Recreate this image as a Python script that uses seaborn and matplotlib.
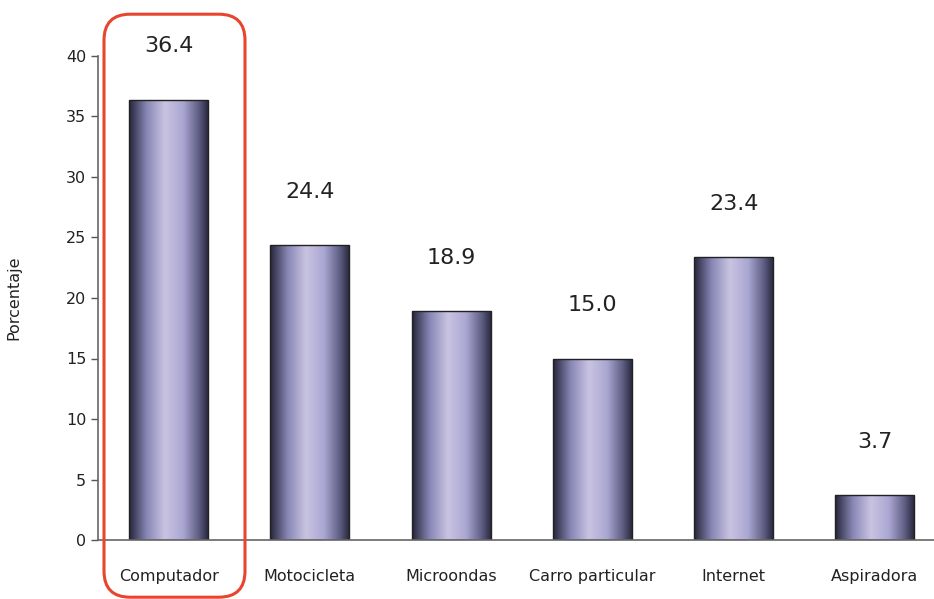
import numpy as np
import pandas as pd
import matplotlib
matplotlib.use("Agg")
import matplotlib.pyplot as plt
import seaborn as sns
from matplotlib.colors import LinearSegmentedColormap
from matplotlib.patches import FancyBboxPatch

# ================= datos =================
categorias = ["Computador", "Motocicleta", "Microondas", "Carro particular", "Internet", "Aspiradora"]
porcentajes = [36.4, 24.4, 18.9, 15.0, 23.4, 3.7]
y_ticks = [0, 5, 10, 15, 20, 25, 30, 35, 40]

df = pd.DataFrame({"Categoria": categorias, "Porcentaje": porcentajes})

sns.set_style("white")
plt.rcParams["font.family"] = ["DejaVu Sans"]

fig = plt.figure(figsize=(9.34, 5.99), dpi=100)
ax = fig.add_axes([98 / 934, 59 / 599, 847.5 / 934, 484 / 599])

sns.barplot(data=df, x="Categoria", y="Porcentaje", width=0.56, ax=ax,
            color="#a8a4d0", edgecolor="#222222", linewidth=1.0)

# degradado tipo cilindro en cada barra
cmap = LinearSegmentedColormap.from_list("cil", [
    (0.0, "#25253a"), (0.22, "#8786b5"), (0.45, "#cac4e2"),
    (0.68, "#a9a6d2"), (0.88, "#5c5b80"), (1.0, "#25253a")])
grad = np.linspace(0, 1, 256).reshape(1, -1)
for p in ax.patches:
    x0, y0 = p.get_x(), p.get_y()
    w, h = p.get_width(), p.get_height()
    p.set_facecolor("none")
    im = ax.imshow(grad, cmap=cmap, aspect="auto", extent=[x0, x0 + w, y0, y0 + h],
                   zorder=p.get_zorder() - 0.1, interpolation="bicubic")
    im.set_clip_path(p)

for i, v in enumerate(porcentajes):
    ax.text(i, v + 4.4, f"{v:.1f}", ha="center", va="center", fontsize=16, color="#222222")

ax.set_xlim(-0.5, 5.5)
ax.set_ylim(0, 40)
ax.set_yticks(y_ticks)
ax.set_xlabel("")
ax.set_ylabel("Porcentaje", fontsize=11.5, labelpad=32, color="#222222")

ax.set_xticks(np.arange(len(categorias)))
ax.set_xticks(np.arange(len(categorias) + 1) - 0.5, minor=True)
ax.tick_params(axis="x", which="major", length=0, pad=21, labelsize=11.5, labelcolor="#222222")
ax.tick_params(axis="x", which="minor", length=5, width=1, color="#555555", direction="out")
ax.tick_params(axis="y", length=5, width=1, color="#555555", direction="out",
               labelsize=11.5, labelcolor="#222222", left=True)

sns.despine(ax=ax)
for s in ["left", "bottom"]:
    ax.spines[s].set_color("#666666")
    ax.spines[s].set_linewidth(1.2)

# recuadro rojo redondeado sobre "Computador"
caja = FancyBboxPatch((104 / 934, 0.003), 141 / 934, (599 - 14 - 2) / 599,
                      boxstyle="round,pad=0,rounding_size=0.028",
                      transform=fig.transFigure, fill=False,
                      edgecolor="#e8452f", linewidth=2.2, clip_on=False,
                      mutation_aspect=934 / 599)
fig.patches.append(caja)

fig.savefig("out.png", dpi=100)
